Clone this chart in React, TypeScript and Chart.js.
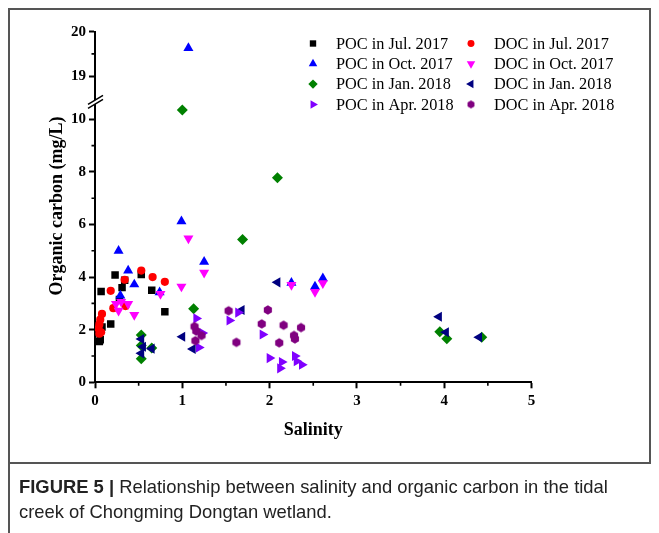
import React, { useEffect, useRef } from 'react';
import { Chart, registerables } from 'chart.js';
import { drawPoint } from 'chart.js/helpers';

Chart.register(...registerables);

// ---- Data (salinity, organic carbon mg/L) ----
const pocJul: [number, number][] = [
  [0.05, 1.55], [0.06, 1.62], [0.08, 2.1], [0.07, 3.45], [0.18, 2.22], [0.23, 4.08],
  [0.28, 3.15], [0.31, 3.6], [0.34, 3.88], [0.53, 4.1], [0.65, 3.5], [0.8, 2.68],
];
const docJul: [number, number][] = [
  [0.08, 2.6], [0.06, 2.38], [0.05, 2.2], [0.04, 2.05], [0.07, 1.9], [0.05, 1.85],
  [0.18, 3.48], [0.21, 2.82], [0.34, 3.9], [0.35, 2.9], [0.53, 4.25], [0.66, 4.0], [0.8, 3.82],
];
const pocOct: [number, number][] = [
  [0.27, 5.0], [0.29, 3.3], [0.38, 4.25], [0.45, 3.72], [0.74, 3.42], [0.99, 6.12],
  [1.25, 4.58], [2.25, 3.78], [2.52, 3.64], [2.61, 3.95],
];
const pocOctHigh: [number, number][] = [[1.07, 19.63]];
const docOct: [number, number][] = [
  [0.24, 2.98], [0.27, 2.72], [0.3, 3.06], [0.38, 2.98], [0.45, 2.56], [0.75, 3.36],
  [0.99, 3.64], [1.07, 5.47], [1.25, 4.17], [2.25, 3.7], [2.52, 3.44], [2.61, 3.77],
];
const pocJan: [number, number][] = [
  [0.53, 1.8], [0.53, 0.9], [0.53, 1.4], [0.65, 1.3], [1.0, 10.35], [1.13, 2.8],
  [1.69, 5.43], [2.09, 7.78], [3.95, 1.92], [4.03, 1.66], [4.43, 1.71],
];
const docJan: [number, number][] = [
  [0.53, 1.65], [0.55, 1.35], [0.53, 1.1], [0.65, 1.28], [1.0, 1.73], [1.12, 1.27],
  [1.68, 2.75], [2.09, 3.8], [3.94, 2.49], [4.02, 1.9], [4.4, 1.71],
];
const pocApr: [number, number][] = [
  [1.16, 2.43], [1.23, 1.87], [1.19, 1.32], [1.54, 2.35], [1.64, 2.65], [1.92, 1.82],
  [2.0, 0.92], [2.14, 0.77], [2.12, 0.53], [2.29, 1.0], [2.31, 0.8], [2.37, 0.67],
];
const docApr: [number, number][] = [
  [1.14, 2.12], [1.16, 1.95], [1.22, 1.78], [1.15, 1.58], [1.53, 2.72], [1.62, 1.52],
  [1.91, 2.22], [1.98, 2.75], [2.16, 2.17], [2.11, 1.5], [2.36, 2.08], [2.28, 1.78], [2.29, 1.65],
];

const seriesLabels = [
  'POC in Jul. 2017', 'DOC in Jul. 2017', 'POC in Oct. 2017', 'DOC in Oct. 2017',
  'POC in Jan. 2018', 'DOC in Jan. 2018', 'POC in Apr. 2018', 'DOC in Apr. 2018',
];
const seriesData = [pocJul, docJul, pocOct, docOct, pocJan, docJan, pocApr, docApr];
const seriesColors = ['#000000', '#ff0000', '#0000ff', '#ff00ff', '#008000', '#000080', '#8000ff', '#800080'];

// axis definitions
const xTicksMinor = [0.5, 1.5, 2.5, 3.5, 4.5];
const yTicksMinor = [1, 3, 5, 7, 9];
const y2TicksMinor = [19.5];
const xRange = [0, 5];
const yLowRange = [0, 10.7];
const yHighRange = [18.44, 20];

const SERIF = '"Liberation Serif", "Times New Roman", serif';

function makeHexagon(color: string, r: number) {
  const c = document.createElement('canvas');
  const s = Math.ceil(r * 2 + 2);
  c.width = s; c.height = s;
  const g = c.getContext('2d')!;
  g.fillStyle = color;
  g.beginPath();
  for (let i = 0; i < 6; i++) {
    const a = Math.PI / 6 + (i * Math.PI) / 3;
    const px = s / 2 + r * Math.cos(a);
    const py = s / 2 + r * Math.sin(a);
    if (i === 0) g.moveTo(px, py); else g.lineTo(px, py);
  }
  g.closePath();
  g.fill();
  return c;
}

export default function App() {
  const ref = useRef<HTMLCanvasElement>(null);

  useEffect(() => {
    const hex = makeHexagon(seriesColors[7], 4.7);
    const hexSmall = makeHexagon(seriesColors[7], 4.0);
    const styles: any[] = [
      { pointStyle: 'rect', radius: 5.3, rotation: 0 },
      { pointStyle: 'circle', radius: 4.1, rotation: 0 },
      { pointStyle: 'triangle', radius: 5.8, rotation: 0 },
      { pointStyle: 'triangle', radius: 5.8, rotation: 180 },
      { pointStyle: 'rectRot', radius: 5.5, rotation: 0 },
      { pointStyle: 'triangle', radius: 5.8, rotation: 270 },
      { pointStyle: 'triangle', radius: 5.8, rotation: 90 },
      { pointStyle: hex, radius: 4.7, rotation: 0 },
    ];

    const datasets: any[] = seriesData.map((d, i) => ({
      label: seriesLabels[i],
      data: d.map(([x, y]) => ({ x, y })),
      yAxisID: 'y',
      backgroundColor: seriesColors[i],
      borderColor: seriesColors[i],
      borderWidth: 0,
      pointStyle: styles[i].pointStyle,
      pointRadius: styles[i].radius,
      pointRotation: styles[i].rotation,
      order: 20 - i,
    }));
    datasets.push({
      label: seriesLabels[2] + ' (high)',
      data: pocOctHigh.map(([x, y]) => ({ x, y })),
      yAxisID: 'y2',
      backgroundColor: seriesColors[2],
      borderColor: seriesColors[2],
      borderWidth: 0,
      pointStyle: 'triangle',
      pointRadius: 5.8,
      pointRotation: 0,
      order: 18,
    });

    const decor = {
      id: 'decor',
      afterDraw(chart: any) {
        const ctx = chart.ctx as CanvasRenderingContext2D;
        const sx = chart.scales.x;
        const sy = chart.scales.y;
        const sy2 = chart.scales.y2;
        ctx.save();
        // minor ticks
        ctx.strokeStyle = '#000';
        ctx.lineWidth = 1.6;
        ctx.beginPath();
        const mLen = 3.5;
        xTicksMinor.forEach((v) => {
          const p = sx.getPixelForValue(v);
          ctx.moveTo(p, sx.top); ctx.lineTo(p, sx.top + mLen);
        });
        yTicksMinor.forEach((v) => {
          const p = sy.getPixelForValue(v);
          ctx.moveTo(sy.right, p); ctx.lineTo(sy.right - mLen, p);
        });
        y2TicksMinor.forEach((v) => {
          const p = sy2.getPixelForValue(v);
          ctx.moveTo(sy2.right, p); ctx.lineTo(sy2.right - mLen, p);
        });
        ctx.stroke();

        // axis break
        const bx = sy.right;
        const by = sy.top;
        ctx.fillStyle = '#fff';
        ctx.beginPath();
        ctx.moveTo(bx - 7, by + 3.5);
        ctx.lineTo(bx + 8, by - 5.5);
        ctx.lineTo(bx + 8, by - 1.5);
        ctx.lineTo(bx - 7, by + 7.5);
        ctx.closePath();
        ctx.fill();
        ctx.lineWidth = 1.5;
        ctx.beginPath();
        ctx.moveTo(bx - 7, by + 3.5); ctx.lineTo(bx + 8, by - 5.5);
        ctx.moveTo(bx - 7, by + 7.5); ctx.lineTo(bx + 8, by - 1.5);
        ctx.stroke();

        // axis titles
        ctx.fillStyle = '#000';
        ctx.font = `bold 18px ${SERIF}`;
        ctx.textAlign = 'center';
        ctx.textBaseline = 'middle';
        ctx.fillText('Salinity', (sx.left + sx.right) / 2, 430);
        ctx.save();
        ctx.translate(57, 206);
        ctx.rotate(-Math.PI / 2);
        ctx.fillText('Organic carbon (mg/L)', 0, 0);
        ctx.restore();

        // legend
        const rows = [43.5, 63.8, 84.1, 104.4];
        const markerX = [313, 471];
        const textX = [336, 494];
        ctx.font = `16.3px ${SERIF}`;
        ctx.textAlign = 'left';
        ctx.textBaseline = 'middle';
        seriesLabels.forEach((lab, i) => {
          const col = i % 2;
          const row = Math.floor(i / 2);
          ctx.fillStyle = seriesColors[i];
          const ps = i === 7 ? hexSmall : styles[i].pointStyle;
          drawPoint(ctx, { pointStyle: ps, radius: styles[i].radius * 0.85, rotation: styles[i].rotation, borderWidth: 0 } as any, markerX[col], rows[row]);
          ctx.fillStyle = '#000';
          ctx.fillText(lab, textX[col], rows[row] + 1);
        });
        ctx.restore();
      },
    };

    const tickFont = { family: SERIF, weight: 'bold' as const, size: 15 };
    const chart = new Chart(ref.current!, {
      type: 'scatter',
      data: { datasets },
      plugins: [decor],
      options: {
        animation: false,
        responsive: false,
        devicePixelRatio: 1,
        events: [],
        layout: { padding: { left: 0, right: 127.5, top: 31.7, bottom: 0 } },
        plugins: { legend: { display: false }, tooltip: { enabled: false } },
        scales: {
          x: {
            type: 'linear',
            min: xRange[0],
            max: xRange[1],
            ticks: { stepSize: 1, color: '#000', font: tickFont, padding: 4 },
            grid: { drawOnChartArea: false, drawTicks: true, tickLength: 6, tickWidth: 2, tickColor: '#000' },
            border: { display: true, color: '#000', width: 2 },
            afterFit: (s: any) => { s.height = 460 - 382.3; },
          },
          y: {
            type: 'linear',
            position: 'left',
            stack: 'yy',
            stackWeight: 281.4,
            min: yLowRange[0],
            max: yLowRange[1],
            ticks: { stepSize: 2, includeBounds: false, color: '#000', font: tickFont, padding: 3 },
            grid: { drawOnChartArea: false, drawTicks: true, tickLength: 6, tickWidth: 2, tickColor: '#000' },
            border: { display: true, color: '#000', width: 2 },
            afterFit: (s: any) => { s.width = 95; },
          },
          y2: {
            type: 'linear',
            position: 'left',
            stack: 'yy',
            stackWeight: 69.2,
            min: yHighRange[0],
            max: yHighRange[1],
            ticks: { stepSize: 1, includeBounds: false, color: '#000', font: tickFont, padding: 3 },
            grid: { drawOnChartArea: false, drawTicks: true, tickLength: 6, tickWidth: 2, tickColor: '#000' },
            border: { display: true, color: '#000', width: 2 },
            afterFit: (s: any) => { s.width = 95; },
          },
        },
      } as any,
    });
    return () => chart.destroy();
  }, []);

  return (
    <div style={{ position: 'absolute', left: 0, top: 0, width: 659, height: 533, background: '#fff', overflow: 'hidden' }}>
      <canvas ref={ref} width={659} height={460} style={{ position: 'absolute', left: 0, top: 0, width: 659, height: 460 }} />
      <div style={{ position: 'absolute', left: 8, top: 8, width: 643, height: 2, background: '#555' }} />
      <div style={{ position: 'absolute', left: 8, top: 8, width: 2, height: 525, background: '#555' }} />
      <div style={{ position: 'absolute', left: 649, top: 8, width: 2, height: 456, background: '#555' }} />
      <div style={{ position: 'absolute', left: 8, top: 462, width: 643, height: 2, background: '#555' }} />
      <div style={{ position: 'absolute', left: 19, top: 474, whiteSpace: 'nowrap', fontFamily: '"Liberation Sans", Arial, sans-serif', fontSize: 18.4, lineHeight: '25px', color: '#222' }}>
        <b>FIGURE 5 |</b> Relationship between salinity and organic carbon in the tidal<br />
        creek of Chongming Dongtan wetland.
      </div>
    </div>
  );
}
